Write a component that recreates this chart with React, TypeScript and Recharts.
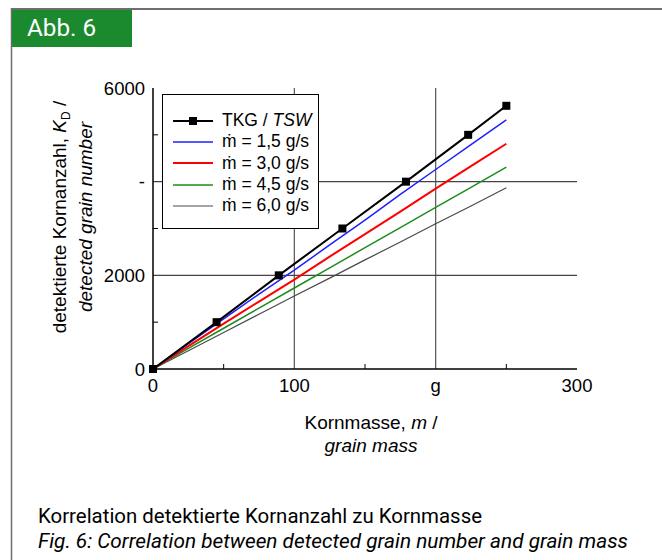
import React from "react"
import { LineChart, Line, XAxis, YAxis, ReferenceLine, Legend, Label } from "recharts"

// grain mass (g) at which the TKG reference points were taken
const tkgMass = [0, 45, 89, 134, 179, 223, 250]
const tkgCount = [0, 1000, 2000, 3000, 4000, 5000, 5620]

// measured curves, read every 25 g
const massSteps = [0, 25, 50, 75, 100, 125, 150, 175, 200, 225, 250]
const flow15 = [0, 540, 1070, 1600, 2110, 2650, 3180, 3730, 4260, 4790, 5320]
const flow30 = [0, 490, 970, 1440, 1910, 2400, 2880, 3360, 3850, 4330, 4810]
const flow45 = [0, 440, 870, 1300, 1730, 2160, 2590, 3020, 3450, 3880, 4310]
const flow60 = [0, 390, 780, 1170, 1560, 1940, 2330, 2710, 3100, 3480, 3870]

const xTicks = [0, 50, 100, 150, 200, 250, 300]
const xTickLabels = ["0", "", "100", "", "g", "", "300"]
const yTicks = [0, 1000, 2000, 3000, 4000, 5000, 6000]
const yTickLabels = ["0", "", "2000", "", "-", "", "6000"]
const gridX = [100, 200]
const gridY = [2000, 4000]

const series = [
  { key: "tkg", name: "TKG / TSW", color: "#000000", width: 2 },
  { key: "f15", name: "ṁ = 1,5 g/s", color: "#1f1fff", width: 1.5 },
  { key: "f30", name: "ṁ = 3,0 g/s", color: "#ff0000", width: 2 },
  { key: "f45", name: "ṁ = 4,5 g/s", color: "#1c8c1c", width: 1.5 },
  { key: "f60", name: "ṁ = 6,0 g/s", color: "#4a4a4a", width: 1.2 },
]

// merged table for the chart
const allMass = Array.from(new Set([...tkgMass, ...massSteps])).sort((a, b) => a - b)
const data = allMass.map((m) => {
  const ti = tkgMass.indexOf(m)
  const si = massSteps.indexOf(m)
  return {
    mass: m,
    tkg: ti >= 0 ? tkgCount[ti] : null,
    f15: si >= 0 ? flow15[si] : null,
    f30: si >= 0 ? flow30[si] : null,
    f45: si >= 0 ? flow45[si] : null,
    f60: si >= 0 ? flow60[si] : null,
  }
})

const FONT = "'Liberation Sans', Arial, Helvetica, sans-serif"
const CAPTION_FONT = "'Liberation Sans Narrow', 'Arial Narrow', 'Roboto', sans-serif"

const BottomTick = (props: any) => {
  const { x, y, index } = props
  const label = xTickLabels[index] ?? ""
  return (
    <g>
      {label === "" && <line x1={x} x2={x} y1={y} y2={y - 5} stroke="#000" />}
      {label !== "" && (
        <text x={x} y={y + 23} textAnchor="middle" fontSize={18.5} fontFamily={FONT} fill="#000">
          {label}
        </text>
      )}
    </g>
  )
}

const LeftTick = (props: any) => {
  const { x, y, index } = props
  const label = yTickLabels[index] ?? ""
  return (
    <g>
      {label === "" && <line x1={x} x2={x + 5} y1={y} y2={y} stroke="#000" />}
      {label !== "" && (
        <text x={x - 8} y={y + 6.5} textAnchor="end" fontSize={18.5} fontFamily={FONT} fill="#000">
          {label}
        </text>
      )}
    </g>
  )
}

const RightTick = (props: any) => {
  const { x, y, index } = props
  if (yTickLabels[index] !== "") return <g />
  return <line x1={x - 1} x2={x + 3} y1={y} y2={y} stroke="#000" />
}

const SquareDot = (props: any) => {
  const { cx, cy, index } = props
  if (cx == null || cy == null) return <g key={"d" + index} />
  return <rect key={"d" + index} x={cx - 4} y={cy - 4} width={8} height={8} fill="#000" />
}

const XTitle = (props: any) => {
  const vb = props.viewBox
  const cx = vb.x + vb.width / 2 + 6
  return (
    <g fontFamily={FONT} fontSize={19} fill="#000">
      <text x={cx} y={vb.y + 60} textAnchor="middle">
        Kornmasse, <tspan fontStyle="italic">m</tspan> /
      </text>
      <text x={cx} y={vb.y + 83} textAnchor="middle" fontStyle="italic">
        grain mass
      </text>
    </g>
  )
}

const YTitle = () => {
  const cy = 217
  return (
    <g fontFamily={FONT} fontSize={19} fill="#000">
      <text transform={`translate(66, ${cy}) rotate(-90)`} textAnchor="middle">
        detektierte Kornanzahl, <tspan fontStyle="italic">K</tspan>
        <tspan fontSize={12} dy={4}>D</tspan>
        <tspan dy={-4}> /</tspan>
      </text>
      <text transform={`translate(92, ${cy}) rotate(-90)`} textAnchor="middle" fontStyle="italic">
        detected grain number
      </text>
    </g>
  )
}

const LegendBox = () => (
  <div
    style={{
      border: "1px solid #000",
      background: "#fff",
      boxSizing: "border-box",
      width: 157,
      height: 135,
      padding: "15px 0 0 10px",
      fontFamily: FONT,
      fontSize: 17.5,
      color: "#000",
    }}
  >
    {series.map((s) => (
      <div key={s.key} style={{ display: "flex", alignItems: "center", height: 21.3 }}>
        <svg width={44} height={12} style={{ marginRight: 5 }}>
          <line x1={0} x2={40} y1={6} y2={6} stroke={s.color} strokeWidth={s.width} />
          {s.key === "tkg" && <rect x={16} y={2} width={8} height={8} fill="#000" />}
        </svg>
        <span style={{ whiteSpace: "nowrap" }}>
          {s.key === "tkg" ? (
            <>
              TKG / <i>TSW</i>
            </>
          ) : (
            s.name
          )}
        </span>
      </div>
    ))}
  </div>
)

export default function App() {
  return (
    <div style={{ position: "absolute", left: 0, top: 0, width: 662, height: 560, background: "#fff" }}>
      <svg width={662} height={560} style={{ position: "absolute", left: 0, top: 0 }}>
        <line x1={11} x2={662} y1={9} y2={9} stroke="#6e6e6e" strokeWidth={2} />
        <line x1={11.5} x2={11.5} y1={8} y2={560} stroke="#6e6e6e" strokeWidth={1.5} />
        <rect x={12} y={10} width={120} height={37} fill="#1b8a2f" />
        <text x={27} y={36} fontSize={23} fill="#fff" fontFamily={CAPTION_FONT} textLength={69} lengthAdjust="spacingAndGlyphs">
          Abb. 6
        </text>
        <text x={38} y={523} fontSize={21} fill="#000" fontFamily={CAPTION_FONT} textLength={444} lengthAdjust="spacingAndGlyphs">
          Korrelation detektierte Kornanzahl zu Kornmasse
        </text>
        <text x={38} y={548} fontSize={21} fill="#000" fontStyle="italic" fontFamily={CAPTION_FONT} textLength={590} lengthAdjust="spacingAndGlyphs">
          Fig. 6: Correlation between detected grain number and grain mass
        </text>
      </svg>
      <div style={{ position: "absolute", left: 0, top: 0 }}>
        <LineChart width={662} height={560} data={data} margin={{ top: 88, right: 85, left: 103, bottom: 161 }}>
          {gridX.map((v) => (
            <ReferenceLine key={"gx" + v} x={v} stroke="#555" strokeWidth={1.2} />
          ))}
          {gridY.map((v) => (
            <ReferenceLine key={"gy" + v} y={v} stroke="#444" strokeWidth={1.2} />
          ))}
          <XAxis
            dataKey="mass"
            type="number"
            domain={[0, 300]}
            ticks={xTicks}
            interval={0}
            height={30}
            tickSize={0}
            tickMargin={0}
            tickLine={false}
            axisLine={{ stroke: "#000", strokeWidth: 1.5 }}
            tick={<BottomTick />}
          >
            <Label content={<XTitle />} />
          </XAxis>
          <XAxis
            xAxisId="top"
            orientation="top"
            type="number"
            dataKey="mass"
            domain={[0, 300]}
            height={0}
            tick={false}
            tickLine={false}
            axisLine={{ stroke: "#000", strokeWidth: 1.2 }}
          />
          <YAxis
            type="number"
            domain={[0, 6000]}
            ticks={yTicks}
            interval={0}
            width={50}
            tickSize={0}
            tickMargin={0}
            tickLine={false}
            axisLine={{ stroke: "#000", strokeWidth: 1.5 }}
            tick={<LeftTick />}
          />
          <YAxis
            yAxisId="right"
            orientation="right"
            type="number"
            domain={[0, 6000]}
            ticks={yTicks}
            interval={0}
            width={0}
            tickSize={0}
            tickMargin={0}
            tickLine={false}
            axisLine={{ stroke: "#000", strokeWidth: 1.2 }}
            tick={<RightTick />}
          />
          {series
            .slice()
            .reverse()
            .map((s) => (
              <Line
                key={s.key}
                dataKey={s.key}
                name={s.name}
                stroke={s.color}
                strokeWidth={s.width}
                type="linear"
                connectNulls
                dot={s.key === "tkg" ? <SquareDot /> : false}
                activeDot={false}
                isAnimationActive={false}
              />
            ))}
          <Legend
            layout="vertical"
            align="center"
            verticalAlign="middle"
            content={() => <LegendBox />}
            wrapperStyle={{ left: 162, top: 94, width: 157, height: 135 }}
          />
        </LineChart>
      </div>
      <svg width={130} height={420} style={{ position: "absolute", left: 0, top: 0, pointerEvents: "none" }}>
        <YTitle />
      </svg>
    </div>
  )
}
